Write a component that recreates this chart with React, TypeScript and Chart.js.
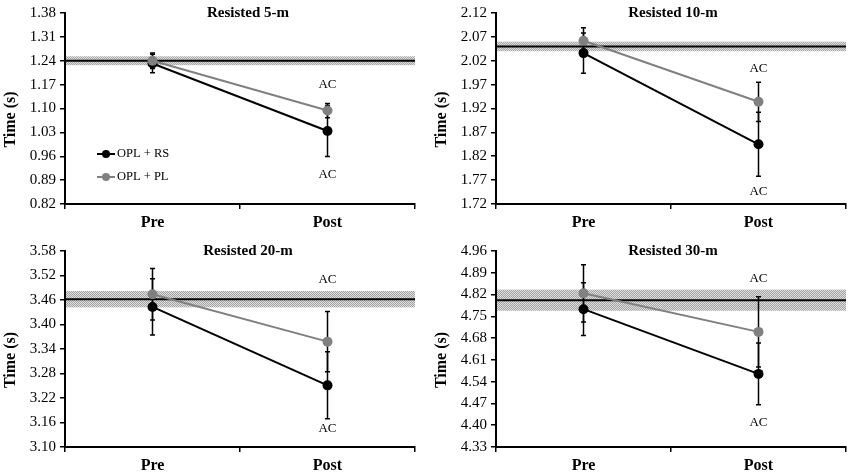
import React, { useEffect, useRef } from "react";
import { Chart, registerables } from "chart.js";

Chart.register(...registerables);

const FONT = '"Liberation Serif", "Times New Roman", serif';

// ---------- data ----------
const categories = ["Pre", "Post"];
const seriesNames = ["OPL + RS", "OPL + PL"];
const panelTitles = ["Resisted 5-m", "Resisted 10-m", "Resisted 20-m", "Resisted 30-m"];
const yAxisTitle = "Time (s)";
const acText = "AC";

// Resisted 5-m
const rs5 = [1.232, 1.034];
const rs5Err = [0.027, 0.075];
const pl5 = [1.24, 1.094];
const pl5Err = [0.023, 0.021];
const ref5 = 1.24;
const band5 = 0.013;
const ticks5 = [0.82, 0.89, 0.96, 1.03, 1.1, 1.17, 1.24, 1.31, 1.38];

// Resisted 10-m
const rs10 = [2.036, 1.845];
const rs10Err = [0.042, 0.067];
const pl10 = [2.062, 1.934];
const pl10Err = [0.027, 0.041];
const ref10 = 2.05;
const band10 = 0.01;
const ticks10 = [1.72, 1.77, 1.82, 1.87, 1.92, 1.97, 2.02, 2.07, 2.12];

// Resisted 20-m
const rs20 = [3.443, 3.251];
const rs20Err = [0.069, 0.082];
const pl20 = [3.474, 3.358];
const pl20Err = [0.063, 0.074];
const ref20 = 3.462;
const band20 = 0.02;
const ticks20 = [3.1, 3.16, 3.22, 3.28, 3.34, 3.4, 3.46, 3.52, 3.58];

// Resisted 30-m
const rs30 = [4.773, 4.565];
const rs30Err = [0.085, 0.099];
const pl30 = [4.824, 4.7];
const pl30Err = [0.092, 0.113];
const ref30 = 4.802;
const band30 = 0.034;
const ticks30 = [4.33, 4.4, 4.47, 4.54, 4.61, 4.68, 4.75, 4.82, 4.89, 4.96];

// "AC" annotation heights (in seconds) for Post
const acUpper = [1.17, 2.004, 3.511, 4.87];
const acLower = [0.906, 1.747, 3.145, 4.408];

const panelData = [
  { rs: rs5, rsErr: rs5Err, pl: pl5, plErr: pl5Err, ref: ref5, band: band5, ticks: ticks5 },
  { rs: rs10, rsErr: rs10Err, pl: pl10, plErr: pl10Err, ref: ref10, band: band10, ticks: ticks10 },
  { rs: rs20, rsErr: rs20Err, pl: pl20, plErr: pl20Err, ref: ref20, band: band20, ticks: ticks20 },
  { rs: rs30, rsErr: rs30Err, pl: pl30, plErr: pl30Err, ref: ref30, band: band30, ticks: ticks30 },
];

// ---------- layout ----------
const panelLayout = [
  { left: 0, top: 0, width: 425, height: 236, yAxisW: 65, padTop: 8, padRight: 10, xAxisH: 32, legend: true },
  { left: 425, top: 0, width: 426, height: 236, yAxisW: 71, padTop: 8, padRight: 4, xAxisH: 32, legend: false },
  { left: 0, top: 236, width: 425, height: 236, yAxisW: 65, padTop: 15, padRight: 10, xAxisH: 25, legend: false },
  { left: 425, top: 236, width: 426, height: 236, yAxisW: 71, padTop: 15, padRight: 3, xAxisH: 25, legend: false },
];

const RS_COLOR = "#000000";
const PL_COLOR = "#808080";

function makePattern(ctx: CanvasRenderingContext2D) {
  const c = document.createElement("canvas");
  c.width = 2;
  c.height = 2;
  const p = c.getContext("2d")!;
  p.fillStyle = "#dedede";
  p.fillRect(0, 0, 2, 2);
  p.fillStyle = "#a4a4a4";
  p.fillRect(0, 0, 1, 1);
  p.fillRect(1, 1, 1, 1);
  return ctx.createPattern(c, "repeat")!;
}

function Panel({ idx }: { idx: number }) {
  const ref = useRef<HTMLCanvasElement | null>(null);
  const d = panelData[idx];
  const L = panelLayout[idx];

  useEffect(() => {
    const canvas = ref.current!;
    const deco = {
      id: "deco" + idx,
      beforeDatasetsDraw(chart: any) {
        const { ctx, chartArea, scales } = chart;
        const x = scales.x;
        const y = scales.y;
        ctx.save();
        // band
        const yTop = y.getPixelForValue(d.ref + d.band);
        const yBot = y.getPixelForValue(d.ref - d.band);
        ctx.fillStyle = makePattern(ctx);
        ctx.fillRect(chartArea.left + 1, yTop, chartArea.right - chartArea.left - 1, yBot - yTop);
        // reference line
        const yr = y.getPixelForValue(d.ref);
        ctx.strokeStyle = "#000";
        ctx.lineWidth = 2;
        ctx.beginPath();
        ctx.moveTo(chartArea.left, yr);
        ctx.lineTo(chartArea.right, yr);
        ctx.stroke();
        // error bars
        const drawErr = (vals: number[], errs: number[]) => {
          vals.forEach((v, i) => {
            const px = x.getPixelForValue(i);
            const t = y.getPixelForValue(v + errs[i]);
            const b = y.getPixelForValue(v - errs[i]);
            ctx.strokeStyle = "#000";
            ctx.lineWidth = 1.5;
            ctx.beginPath();
            ctx.moveTo(px, t);
            ctx.lineTo(px, b);
            ctx.moveTo(px - 2.5, t);
            ctx.lineTo(px + 2.5, t);
            ctx.moveTo(px - 2.5, b);
            ctx.lineTo(px + 2.5, b);
            ctx.stroke();
          });
        };
        drawErr(d.rs, d.rsErr);
        drawErr(d.pl, d.plErr);
        ctx.restore();
      },
      afterDraw(chart: any) {
        const { ctx, chartArea, scales } = chart;
        const x = scales.x;
        const y = scales.y;
        ctx.save();
        // title
        ctx.fillStyle = "#000";
        ctx.font = `bold 15px ${FONT}`;
        ctx.textAlign = "center";
        ctx.textBaseline = "middle";
        ctx.fillText(panelTitles[idx], 248, chartArea.top);
        // y title
        ctx.save();
        ctx.translate(chartArea.left - 54, (chartArea.top + chartArea.bottom) / 2 + 11);
        ctx.rotate(-Math.PI / 2);
        ctx.font = `bold 16px ${FONT}`;
        ctx.fillText(yAxisTitle, 0, 0);
        ctx.restore();
        // AC labels
        ctx.font = `13px ${FONT}`;
        const px = x.getPixelForValue(1);
        ctx.fillText(acText, px, y.getPixelForValue(acUpper[idx]));
        ctx.fillText(acText, px, y.getPixelForValue(acLower[idx]));
        // legend
        if (L.legend) {
          const items = [
            { name: seriesNames[0], color: RS_COLOR, yy: 154 },
            { name: seriesNames[1], color: PL_COLOR, yy: 177 },
          ];
          items.forEach((it) => {
            ctx.strokeStyle = it.color;
            ctx.lineWidth = 2;
            ctx.beginPath();
            ctx.moveTo(97, it.yy);
            ctx.lineTo(115, it.yy);
            ctx.stroke();
            ctx.fillStyle = it.color;
            ctx.beginPath();
            ctx.arc(106, it.yy, 4, 0, Math.PI * 2);
            ctx.fill();
            ctx.fillStyle = "#000";
            ctx.font = `12.5px ${FONT}`;
            ctx.textAlign = "left";
            ctx.fillText(it.name, 117, it.yy);
          });
        }
        ctx.restore();
      },
    };

    const chart = new Chart(canvas, {
      type: "line",
      data: {
        labels: categories,
        datasets: [
          {
            label: seriesNames[0],
            data: d.rs,
            borderColor: RS_COLOR,
            backgroundColor: RS_COLOR,
            borderWidth: 2,
            pointRadius: 5,
            pointBorderWidth: 0,
            pointBackgroundColor: RS_COLOR,
            order: 1,
          },
          {
            label: seriesNames[1],
            data: d.pl,
            borderColor: PL_COLOR,
            backgroundColor: PL_COLOR,
            borderWidth: 2,
            pointRadius: 5,
            pointBorderWidth: 0,
            pointBackgroundColor: PL_COLOR,
            order: 0,
          },
        ],
      },
      options: {
        animation: false,
        responsive: true,
        maintainAspectRatio: false,
        layout: { padding: { top: L.padTop, right: L.padRight, left: 0, bottom: 0 } },
        plugins: { legend: { display: false }, title: { display: false }, tooltip: { enabled: false } },
        scales: {
          x: {
            type: "category",
            offset: true,
            grid: { offset: true, drawOnChartArea: false, drawTicks: true, tickLength: 5, color: "#000", lineWidth: 1.5 },
            border: { display: true, color: "#000", width: 2 },
            ticks: { color: "#000", padding: 4, font: { family: FONT, size: 16, weight: "bold" } },
            afterFit: (s: any) => {
              s.height = L.xAxisH;
            },
          },
          y: {
            type: "linear",
            min: d.ticks[0],
            max: d.ticks[d.ticks.length - 1],
            grid: { drawOnChartArea: false, drawTicks: true, tickLength: 5, color: "#000", lineWidth: 1.5 },
            border: { display: true, color: "#000", width: 2 },
            ticks: {
              color: "#000",
              padding: 4,
              font: { family: FONT, size: 15 },
              callback: (v: any) => Number(v).toFixed(2),
            },
            afterBuildTicks: (s: any) => {
              s.ticks = d.ticks.map((v) => ({ value: v }));
            },
            afterFit: (s: any) => {
              s.width = L.yAxisW;
            },
          },
        },
      },
      plugins: [deco],
    });
    return () => chart.destroy();
  }, []);

  return (
    <div style={{ position: "absolute", left: L.left, top: L.top, width: L.width, height: L.height }}>
      <canvas ref={ref} />
    </div>
  );
}

export default function App() {
  return (
    <div style={{ position: "absolute", left: 0, top: 0, width: 851, height: 472, background: "#fff" }}>
      {[0, 1, 2, 3].map((i) => (
        <Panel key={i} idx={i} />
      ))}
    </div>
  );
}
